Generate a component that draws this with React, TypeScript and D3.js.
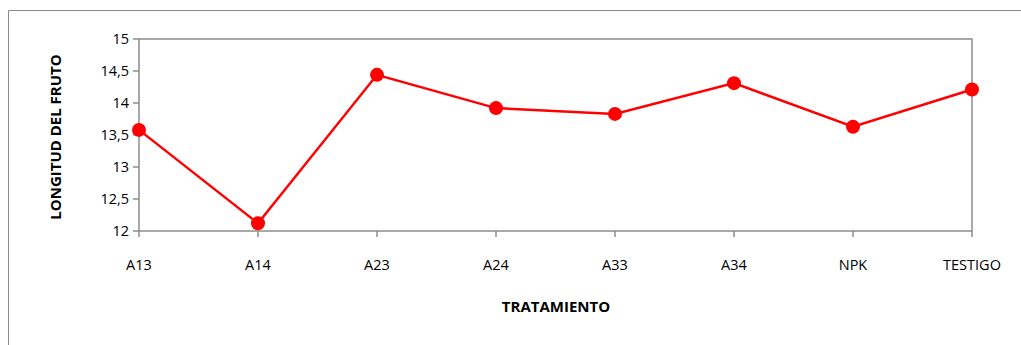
import React from "react";
import * as d3 from "d3";

const categories = ["A13", "A14", "A23", "A24", "A33", "A34", "NPK", "TESTIGO"];
const values = [13.58, 12.12, 14.44, 13.92, 13.83, 14.31, 13.63, 14.21];
const yTicks = [12, 12.5, 13, 13.5, 14, 14.5, 15];
const yTitle = "LONGITUD DEL FRUTO";
const xTitle = "TRATAMIENTO";

export default function App() {
  const W = 1021, H = 345;
  const left = 139, right = 972, top = 39, bottom = 231;
  const x = d3.scalePoint<string>().domain(categories).range([left, right]);
  const y = d3.scaleLinear().domain([12, 15]).range([bottom, top]);
  const line = d3.line<number>().x((_, i) => x(categories[i])!).y((d) => y(d));
  const fmt = (v: number) => String(v).replace(".", ",");
  const font = "'Open Sans', 'Liberation Sans', sans-serif";
  return (
    <svg width={W} height={H} style={{ position: "absolute", left: 0, top: 0 }}>
      <rect x={0} y={0} width={W} height={H} fill="#fff" />
      <path d={`M8.5,${H} V10.5 H${W}`} fill="none" stroke="#8c8c8c" strokeWidth={1} />
      <rect x={left} y={top} width={right - left} height={bottom - top} fill="none" stroke="#8c8c8c" strokeWidth={1.5} />
      {yTicks.map((t) => (
        <g key={t}>
          <line x1={left - 6} x2={left} y1={y(t)} y2={y(t)} stroke="#8c8c8c" strokeWidth={1.5} />
          <text x={left - 10} y={y(t)} dy="0.35em" textAnchor="end" fontFamily={font} fontSize={14.5} fill="#000">{fmt(t)}</text>
        </g>
      ))}
      {categories.map((c) => (
        <g key={c}>
          <line x1={x(c)} x2={x(c)} y1={bottom} y2={bottom + 6} stroke="#8c8c8c" strokeWidth={1.5} />
          <text x={x(c)} y={265} dy="0.35em" textAnchor="middle" fontFamily={font} fontSize={14.5} fill="#000">{c}</text>
        </g>
      ))}
      <path d={line(values)!} fill="none" stroke="#ff0000" strokeWidth={2.5} />
      {values.map((v, i) => (
        <circle key={i} cx={x(categories[i])} cy={y(v)} r={7} fill="#ff0000" />
      ))}
      <text x={556} y={307} dy="0.35em" textAnchor="middle" fontFamily={font} fontSize={15} fontWeight="bold" fill="#000">{xTitle}</text>
      <text transform={`translate(56,${(top + bottom) / 2 + 2}) rotate(-90)`} dy="0.35em" textAnchor="middle" fontFamily={font} fontSize={15} fontWeight="bold" fill="#000">{yTitle}</text>
    </svg>
  );
}
